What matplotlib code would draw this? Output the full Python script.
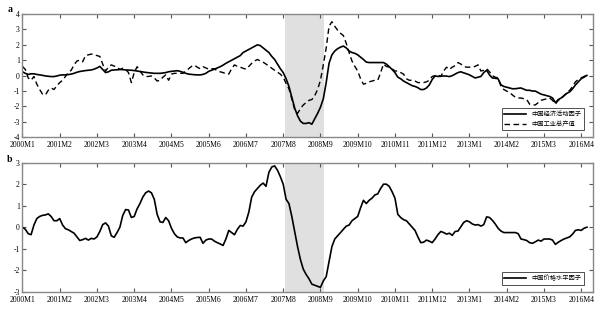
import matplotlib
matplotlib.use("Agg")
import matplotlib.pyplot as plt
import numpy as np
import pandas as pd

# monthly data, 2000M1 .. 2016M6
activity = [
    0.25, 0.15, 0.08, 0.12, 0.12, 0.08, 0.05, 0.02, -0.02, -0.04, -0.06, -0.06,
    -0.02, 0.03, 0.05, 0.05, 0.07, 0.10, 0.15, 0.22, 0.27, 0.30, 0.33, 0.35,
    0.37, 0.42, 0.50, 0.60, 0.40, 0.20, 0.25, 0.35, 0.37, 0.38, 0.40, 0.39,
    0.37, 0.36, 0.35, 0.33, 0.30, 0.27, 0.24, 0.21, 0.19, 0.17, 0.15, 0.15,
    0.15, 0.17, 0.20, 0.25, 0.28, 0.30, 0.32, 0.28, 0.22, 0.15, 0.10, 0.08,
    0.06, 0.05, 0.05, 0.08, 0.15, 0.28, 0.35, 0.42, 0.50, 0.58, 0.68, 0.80,
    0.90, 1.00, 1.10, 1.20, 1.30, 1.50, 1.60, 1.70, 1.80, 1.90, 2.00, 1.95,
    1.80, 1.65, 1.50, 1.25, 1.05, 0.75, 0.45, 0.20, -0.20, -0.70, -1.40, -2.10,
    -2.60, -2.95, -3.10, -3.10, -3.05, -3.15, -2.80, -2.45, -2.05, -1.50, -0.45, 0.80,
    1.35, 1.60, 1.75, 1.85, 1.92, 1.80, 1.60, 1.50, 1.45, 1.35, 1.20, 1.05,
    0.88, 0.85, 0.85, 0.85, 0.85, 0.85, 0.85, 0.75, 0.58, 0.40, 0.20, -0.10,
    -0.20, -0.35, -0.45, -0.55, -0.65, -0.70, -0.78, -0.90, -0.90, -0.80, -0.60, -0.25,
    -0.02, -0.05, -0.04, -0.02, -0.03, -0.06, 0.00, 0.10, 0.20, 0.25, 0.18, 0.12,
    0.05, -0.05, -0.15, -0.10, -0.05, 0.20, 0.35, 0.05, -0.15, -0.17, -0.20, -0.60,
    -0.70, -0.75, -0.80, -0.85, -0.85, -0.82, -0.80, -0.88, -0.95, -0.95, -1.00, -1.00,
    -1.10, -1.20, -1.25, -1.30, -1.35, -1.45, -1.75, -1.55, -1.45, -1.30, -1.15, -1.05,
    -0.85, -0.60, -0.40, -0.20, -0.10, 0.02,
]
industrial = [
    0.60, 0.40, -0.15, -0.30, -0.05, -0.55, -0.90, -1.20, -1.25, -0.95, -0.80, -0.90,
    -0.65, -0.45, -0.30, -0.05, 0.20, 0.35, 0.70, 0.95, 1.00, 0.90, 1.30, 1.35,
    1.40, 1.38, 1.30, 1.25, 0.75, 0.30, 0.55, 0.70, 0.62, 0.55, 0.40, 0.48,
    0.40, 0.20, -0.45, 0.20, 0.58, 0.30, 0.05, -0.06, -0.05, -0.02, -0.15, -0.35,
    -0.30, -0.10, 0.05, -0.30, 0.10, 0.15, 0.15, 0.15, 0.15, 0.30, 0.45, 0.60,
    0.68, 0.55, 0.45, 0.58, 0.50, 0.42, 0.45, 0.45, 0.30, 0.25, 0.20, 0.12,
    0.10, 0.45, 0.70, 0.60, 0.55, 0.48, 0.42, 0.60, 0.80, 0.95, 1.05, 0.95,
    0.87, 0.75, 0.62, 0.48, 0.35, 0.22, 0.10, -0.10, -0.50, -0.85, -1.50, -2.20,
    -2.45, -2.15, -1.90, -1.75, -1.60, -1.55, -1.30, -0.90, -0.30, 0.70, 1.80, 3.20,
    3.50, 3.20, 2.95, 2.75, 2.60, 2.10, 1.50, 0.95, 0.60, 0.30, -0.20, -0.55,
    -0.50, -0.40, -0.35, -0.30, -0.30, 0.20, 0.75, 0.60, 0.55, 0.45, 0.30, 0.30,
    0.20, 0.10, -0.20, -0.30, -0.30, -0.35, -0.45, -0.45, -0.45, -0.40, -0.30, -0.05,
    0.00, 0.05, -0.05, 0.30, 0.55, 0.40, 0.55, 0.65, 0.85, 0.75, 0.60, 0.55,
    0.55, 0.55, 0.60, 0.70, 0.30, 0.35, 0.45, 0.25, 0.00, -0.10, -0.15, -0.70,
    -0.90, -1.00, -1.10, -1.25, -1.40, -1.45, -1.45, -1.50, -1.55, -1.85, -1.90, -1.90,
    -1.75, -1.60, -1.55, -1.50, -1.45, -1.60, -1.85, -1.60, -1.50, -1.30, -1.10, -0.95,
    -0.70, -0.40, -0.25, -0.15, -0.05, 0.05,
]
price = [
    0.00, -0.10, -0.30, -0.35, 0.10, 0.40, 0.50, 0.55, 0.57, 0.62, 0.50, 0.30,
    0.30, 0.40, 0.10, -0.07, -0.12, -0.20, -0.28, -0.45, -0.62, -0.58, -0.52, -0.60,
    -0.52, -0.55, -0.45, -0.20, 0.12, 0.20, 0.05, -0.40, -0.47, -0.25, 0.00, 0.55,
    0.82, 0.80, 0.45, 0.50, 0.85, 1.10, 1.40, 1.60, 1.68, 1.60, 1.30, 0.60,
    0.25, 0.22, 0.45, 0.30, -0.05, -0.30, -0.45, -0.50, -0.50, -0.72, -0.62, -0.55,
    -0.50, -0.48, -0.47, -0.75, -0.60, -0.55, -0.55, -0.65, -0.72, -0.78, -0.85, -0.55,
    -0.15, -0.25, -0.35, -0.10, 0.08, 0.05, 0.25, 0.70, 1.40, 1.65, 1.80, 1.95,
    2.05, 1.90, 2.55, 2.80, 2.85, 2.65, 2.35, 2.00, 1.30, 1.10, 0.50, -0.20,
    -0.90, -1.50, -1.95, -2.20, -2.40, -2.65, -2.70, -2.75, -2.80, -2.50, -2.30, -1.60,
    -0.90, -0.55, -0.40, -0.25, -0.10, 0.05, 0.10, 0.30, 0.40, 0.50, 0.90, 1.25,
    1.10, 1.25, 1.35, 1.50, 1.55, 1.80, 2.00, 2.00, 1.90, 1.65, 1.35, 0.60,
    0.45, 0.35, 0.30, 0.15, 0.00, -0.15, -0.45, -0.72, -0.70, -0.60, -0.65, -0.72,
    -0.55, -0.35, -0.20, -0.25, -0.32, -0.28, -0.38, -0.20, -0.18, 0.02, 0.22, 0.30,
    0.25, 0.15, 0.10, 0.12, 0.05, 0.12, 0.48, 0.45, 0.32, 0.15, -0.05, -0.18,
    -0.25, -0.25, -0.25, -0.25, -0.25, -0.30, -0.55, -0.58, -0.62, -0.72, -0.75, -0.68,
    -0.60, -0.65, -0.55, -0.55, -0.55, -0.60, -0.80, -0.70, -0.62, -0.55, -0.50, -0.45,
    -0.32, -0.15, -0.12, -0.15, -0.05, 0.00,
]
labels_a = ["中国经济活动因子", "中国工业总产值"]
label_b = "中国价格水平因子"
crisis = (91.5, 105.4)  # shaded period, in month index

dates = pd.date_range("2000-01-01", periods=len(activity), freq="MS")
months = np.arange(len(dates))
tick_pos = months[::13]
tick_labels = [f"{d.year}M{d.month}" for d in dates[::13]]

cjk = ["Noto Sans CJK SC", "DejaVu Sans"]
tick_font = "Liberation Serif"


def style_axes(ax, ylim):
    ax.set_xlim(0, 199)
    ax.set_ylim(*ylim)
    ax.set_xticks(tick_pos)
    ax.set_xticklabels(tick_labels, fontsize=5.5, family=tick_font)
    ax.set_yticks(np.arange(ylim[0], ylim[1] + 1))
    ax.set_yticklabels([str(v) for v in range(ylim[0], ylim[1] + 1)], fontsize=5.5, family=tick_font)
    ax.tick_params(direction="in", top=True, right=True, length=3, width=0.8,
                   color="#555555")
    ax.tick_params(axis="x", pad=3)
    ax.tick_params(axis="y", pad=2)
    for s in ax.spines.values():
        s.set_color("#888888")
        s.set_linewidth(1.0)
    ax.axvspan(crisis[0], crisis[1], color="#e0e0e0", lw=0, zorder=0)


fig = plt.figure(figsize=(6.01, 3.11), dpi=100)
ax1 = fig.add_axes([0.0374, 0.5585, 0.9487, 0.3965])
ax2 = fig.add_axes([0.0374, 0.0621, 0.9487, 0.4148])

style_axes(ax1, (-4, 4))
ax1.plot(months, activity, color="black", lw=1.2, label=labels_a[0])
ax1.plot(months, industrial, color="black", lw=1.0, ls=(0, (4, 2.5)), label=labels_a[1])
leg1 = ax1.legend(loc="lower right", prop={"family": cjk, "size": 4.5}, handlelength=3.5,
                  frameon=True, fancybox=False, edgecolor="black", borderpad=0.4,
                  labelspacing=0.3, bbox_to_anchor=(0.99, 0.03))
leg1.get_frame().set_linewidth(0.6)

style_axes(ax2, (-3, 3))
ax2.plot(months, price, color="black", lw=1.2, label=label_b)
leg2 = ax2.legend(loc="lower right", prop={"family": cjk, "size": 4.5}, handlelength=3.5,
                  frameon=True, fancybox=False, edgecolor="black", borderpad=0.4,
                  bbox_to_anchor=(0.99, 0.03))
leg2.get_frame().set_linewidth(0.6)

fig.text(0.012, 0.985, "a", fontsize=7, fontweight="bold", va="top", family=tick_font)
fig.text(0.012, 0.5, "b", fontsize=7, fontweight="bold", va="top", family=tick_font)

plt.savefig("out.png", dpi=100)
plt.close()
